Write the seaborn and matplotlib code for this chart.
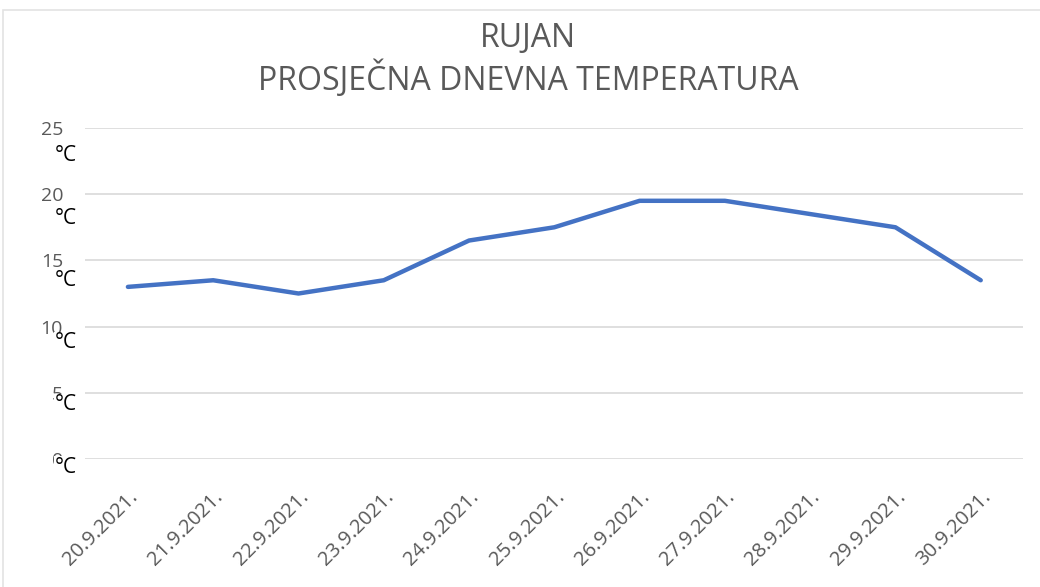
import numpy as np
import pandas as pd
import seaborn as sns
import matplotlib.pyplot as plt
from matplotlib.patches import Rectangle
from matplotlib.transforms import blended_transform_factory, offset_copy

# podaci očitani s grafa
datumi = ['20.9.2021.', '21.9.2021.', '22.9.2021.', '23.9.2021.', '24.9.2021.',
          '25.9.2021.', '26.9.2021.', '27.9.2021.', '28.9.2021.', '29.9.2021.', '30.9.2021.']
temperature = [13.0, 13.5, 12.5, 13.5, 16.5, 17.5, 19.5, 19.5, 18.5, 17.5, 13.5]
y_oznake = [0, 5, 10, 15, 20, 25]
naslov = 'RUJAN\nPROSJEČNA DNEVNA TEMPERATURA'

df = pd.DataFrame({'Datum': datumi, 'Temperatura': temperature})

sns.set_theme(style='white')
plt.rcParams['font.family'] = ['Open Sans', 'DejaVu Sans']

siva = '#595959'
fig = plt.figure(figsize=(10.4, 5.87), dpi=100)
ax = fig.add_axes([0.082, 0.218, 0.902, 0.564])

sns.lineplot(data=df, x='Datum', y='Temperatura', ax=ax, color='#4472C4',
             linewidth=3.2, sort=False)

ax.set_xlim(-0.5, 10.5)
ax.set_ylim(0, 25)
ax.set_yticks(y_oznake)
ax.set_yticklabels([str(v) for v in y_oznake], color=siva, fontsize=14)
ax.yaxis.grid(True, color='#d9d9d9', linewidth=1.2)
ax.set_axisbelow(True)
ax.tick_params(axis='y', length=0, pad=16)
ax.tick_params(axis='x', length=0, pad=20)
plt.setp(ax.get_xticklabels(), rotation=45, ha='right', rotation_mode='anchor',
         color=siva, fontsize=14.5)
for s in ax.spines.values():
    s.set_visible(False)
ax.set_xlabel('')
ax.set_ylabel('')

# oznake °C koje djelomično prekrivaju brojeve
tr = blended_transform_factory(fig.transFigure, ax.transData)
for v in y_oznake:
    t = offset_copy(tr, fig=fig, x=0, y=-(8 + 0.8 * v) * 72 / 100, units='points')
    ax.text(0.063, v, '°C', transform=t, ha='center', va='center', fontsize=15,
            color='black', clip_on=False, zorder=5,
            bbox=dict(facecolor='white', edgecolor='none', pad=0.3))

fig.text(0.508, 0.963, naslov, ha='center', va='top', fontsize=23, color=siva,
         linespacing=1.2)

fig.patches.append(Rectangle((0.003, -0.05), 1.2, 1.033, transform=fig.transFigure,
                             fill=False, edgecolor='#e3e3e3', linewidth=1.2))

fig.savefig('out.png', dpi=100)
